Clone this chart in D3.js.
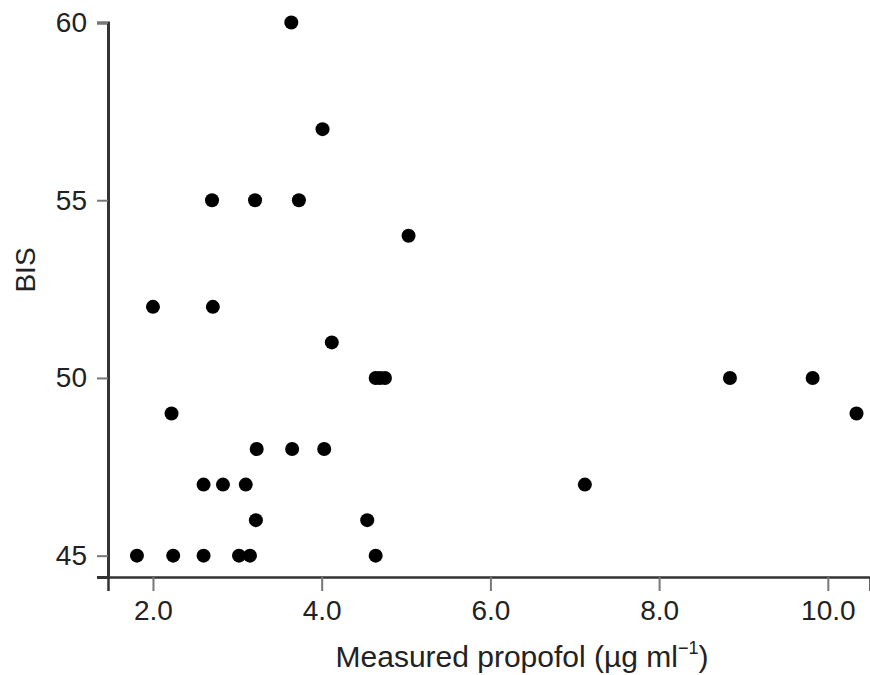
<!DOCTYPE html>
<html lang="en">
<head>
  <meta charset="UTF-8">
  <title>BIS vs measured propofol</title>
  <script src="https://d3js.org/d3.v7.min.js"></script>
  <style>
    body { margin: 0; background: #fff; }
    svg { display: block; }
    text { font-family: "Liberation Sans", Arial, sans-serif; fill: #222; }
  </style>
</head>
<body>
  <div id="viz"></div>
  <script>
    // measured propofol (ug/ml) and BIS
    const propofol = [3.64, 4.01, 2.70, 3.21, 3.73, 5.03, 2.00, 2.71, 4.12,
      4.64, 4.69, 4.75, 8.84, 9.82, 2.22, 10.34, 3.23, 3.65, 4.03,
      2.60, 2.83, 3.10, 7.12, 3.22, 4.54, 1.81, 2.24, 2.60, 3.02, 3.15, 4.64];
    const bis = [60, 57, 55, 55, 55, 54, 52, 52, 51,
      50, 50, 50, 50, 50, 49, 49, 48, 48, 48,
      47, 47, 47, 47, 46, 46, 45, 45, 45, 45, 45, 45];
    const xTicks = [2, 4, 6, 8, 10];
    const yTicks = [45, 50, 55, 60];

    const W = 870, H = 675;
    const svg = d3.select("#viz").append("svg").attr("width", W).attr("height", H);

    const x = d3.scaleLinear().domain([1.467, 10.5]).range([108, 870]);
    const y = d3.scaleLinear().domain([44.4, 60]).range([577, 22.5]);

    function styleAxis(g, w) {
      g.select(".domain").attr("stroke", "#333").attr("stroke-width", w);
      g.selectAll(".tick line").attr("stroke", "#777").attr("stroke-width", 2);
      g.selectAll(".tick text").attr("font-size", 28).attr("fill", "#222")
        .attr("font-family", "Liberation Sans, Arial, sans-serif");
    }

    // x axis
    svg.append("g")
      .attr("transform", "translate(0,577)")
      .call(d3.axisBottom(x).tickValues(xTicks).tickFormat(d3.format(".1f"))
        .tickSizeOuter(0).tickSize(14).tickPadding(9))
      .call(g => styleAxis(g, 2.5));

    // y axis
    svg.append("g")
      .attr("transform", "translate(108,0)")
      .call(d3.axisLeft(y).tickValues(yTicks).tickSizeOuter(0).tickSize(11).tickPadding(10))
      .call(g => styleAxis(g, 3));

    // points
    svg.selectAll("circle")
      .data(propofol)
      .enter()
      .append("circle")
      .attr("cx", d => x(d))
      .attr("cy", (d, i) => y(bis[i]))
      .attr("r", 7)
      .attr("fill", "#000");

    // axis labels
    const xl = svg.append("text")
      .attr("x", 522)
      .attr("y", 667)
      .attr("text-anchor", "middle")
      .attr("font-size", 30);
    xl.append("tspan").text("Measured propofol (\u00b5g ml");
    xl.append("tspan").attr("font-size", 18).attr("dy", -13).text("\u22121");
    xl.append("tspan").attr("dy", 13).text(")");

    svg.append("text")
      .attr("transform", "translate(35,270) rotate(-90)")
      .attr("text-anchor", "middle")
      .attr("font-size", 28)
      .text("BIS");
  </script>
</body>
</html>
